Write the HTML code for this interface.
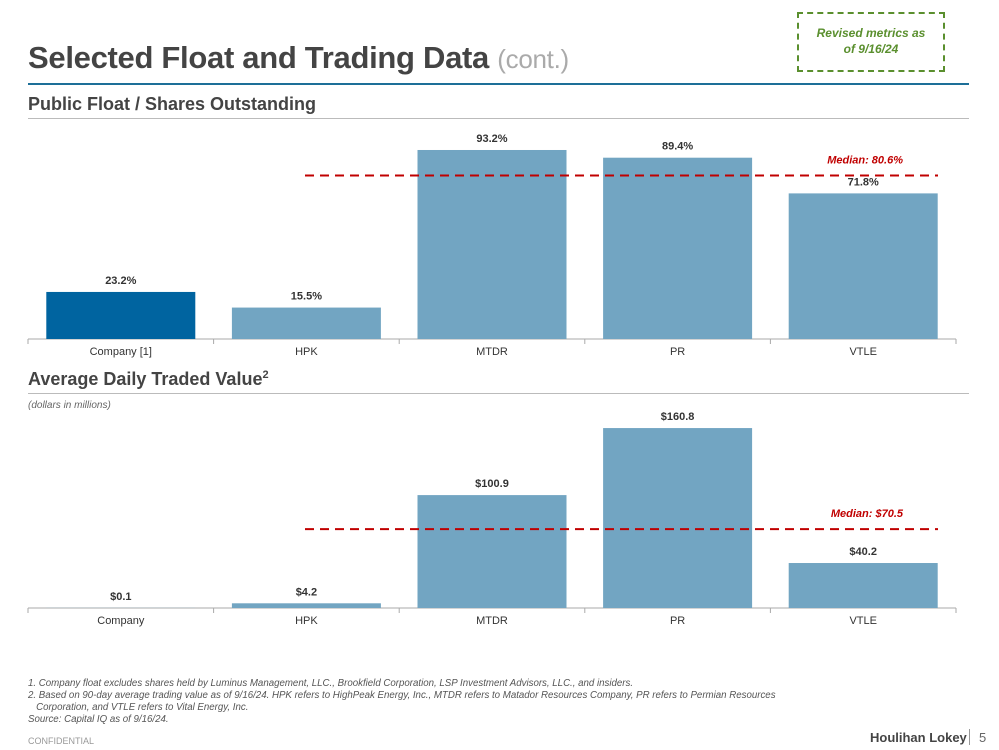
<!DOCTYPE html>
<html><head><meta charset="utf-8"><style>
body{margin:0;width:999px;height:750px;background:#fff;font-family:"Liberation Sans",sans-serif;position:relative;overflow:hidden}
.a{position:absolute}
</style></head><body>
<div class="a" style="left:28px;top:40px;font-size:31px;font-weight:bold;color:#444;letter-spacing:-0.3px">Selected Float and Trading Data <span style="font-weight:normal;color:#aaa;font-size:26px">(cont.)</span></div>
<div class="a" style="left:797px;top:12px;width:148px;height:60px;border:2px dashed #5a8f2e;color:#5a8f2e;font-size:12px;font-weight:bold;font-style:italic;text-align:center;line-height:16px;box-sizing:border-box;padding-top:11px">Revised metrics as<br>of 9/16/24</div>
<div class="a" style="left:28px;top:83px;width:941px;height:2px;background:#1d6f98"></div>
<div class="a" style="left:28px;top:94px;font-size:18px;font-weight:bold;color:#444">Public Float / Shares Outstanding</div>
<div class="a" style="left:28px;top:118px;width:941px;height:1px;background:#bbb"></div>
<div class="a" style="left:28px;top:369px;font-size:18px;font-weight:bold;color:#444">Average Daily Traded Value<sup style="font-size:11px">2</sup></div>
<div class="a" style="left:28px;top:393px;width:941px;height:1px;background:#bbb"></div>
<div class="a" style="left:28px;top:400px;font-size:10px;font-style:italic;color:#666">(dollars in millions)</div>
<svg class="a" style="left:0;top:0" width="999" height="750" id="chart"></svg>
<div class="a" style="left:28px;top:678px;font-size:9.7px;font-style:italic;color:#555;line-height:12px;white-space:nowrap">1. Company float excludes shares held by Luminus Management, LLC., Brookfield Corporation, LSP Investment Advisors, LLC., and insiders.<br>2. Based on 90-day average trading value as of 9/16/24. HPK refers to HighPeak Energy, Inc., MTDR refers to Matador Resources Company, PR refers to Permian Resources<br>&nbsp;&nbsp;&nbsp;Corporation, and VTLE refers to Vital Energy, Inc.<br>Source: Capital IQ as of 9/16/24.</div>
<div class="a" style="left:28px;top:736px;font-size:9px;color:#999">CONFIDENTIAL</div>
<div class="a" style="left:870px;top:730px;font-size:13px;font-weight:bold;color:#444">Houlihan Lokey</div>
<div class="a" style="left:969px;top:729px;width:1px;height:16px;background:#999"></div>
<div class="a" style="left:979px;top:730px;font-size:13px;color:#666">5</div>
<script>
const cats1=["Company [1]","HPK","MTDR","PR","VTLE"];
const vals1=[23.2,15.5,93.2,89.4,71.8];
const median1=80.6;
const cats2=["Company","HPK","MTDR","PR","VTLE"];
const vals2=[0.1,4.2,100.9,160.8,40.2];
const median2=70.5;
const svg=document.getElementById('chart');
const NS='http://www.w3.org/2000/svg';
function mk(t,a,p){const e=document.createElementNS(NS,t);for(const k in a)e.setAttribute(k,a[k]);(p||svg).appendChild(e);return e;}
function draw(cats,vals,med,base,scale,fmt,medLabel,hiIdx,key){
  const x0=28,cw=185.6;
  const ax=mk('line',{x1:x0,x2:x0+cw*5,y1:base,y2:base,stroke:'#aaa','stroke-width':1});
  
  
  for(let i=0;i<=5;i++){const t=mk('line',{x1:x0+cw*i,x2:x0+cw*i,y1:base,y2:base+5,stroke:'#aaa'});
    
    }
  cats.forEach((c,i)=>{
    const h=vals[i]*scale,cx=x0+cw*(i+0.5);
    const r=mk('rect',{x:cx-74.5,y:base-h,width:149,height:h,fill:i===hiIdx?'#0064a0':'#72a5c2'});
    
    
    const v=mk('text',{x:cx,y:base-h-8,'text-anchor':'middle','font-size':11,'font-weight':'bold',fill:'#333'});v.textContent=fmt(vals[i]);
    
    
    const l=mk('text',{x:cx,y:base+16,'text-anchor':'middle','font-size':11,fill:'#333'});l.textContent=c;
    
    
  });
  const my=base-med*scale;
  const m=mk('line',{x1:305,x2:938,y1:my,y2:my,stroke:'#c00000','stroke-width':2,'stroke-dasharray':'9,6'});
  
  
  const mt=mk('text',{x:903,y:my-12,'text-anchor':'end','font-size':11,'font-weight':'bold','font-style':'italic',fill:'#c00000'});mt.textContent=medLabel;
  
  
}
draw(cats1,vals1,median1,339,2.028,v=>v.toFixed(1)+'%','Median: 80.6%',0,'float');
draw(cats2,vals2,median2,608,1.119,v=>'$'+v.toFixed(1),'Median: $70.5',-1,'adtv');
</script>
</body></html>
